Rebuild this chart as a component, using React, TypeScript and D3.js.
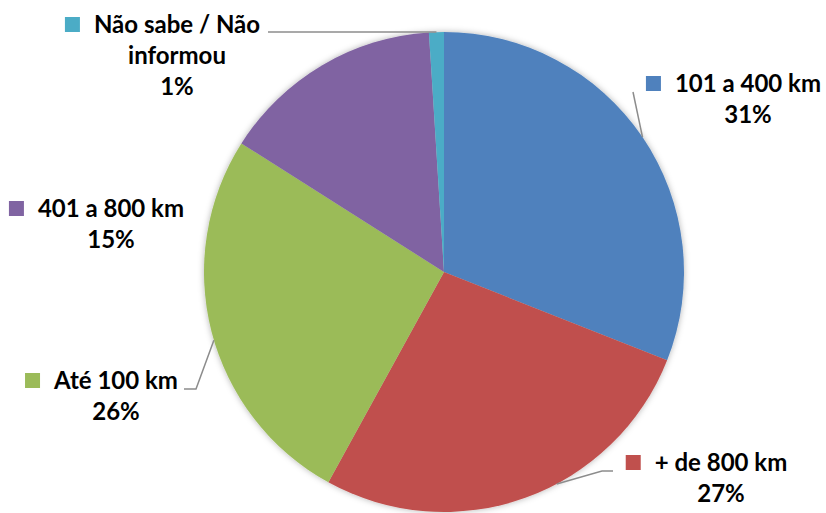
import React, { useEffect, useRef } from "react";
import * as d3 from "d3";

const categories = ["101 a 400 km", "+ de 800 km", "Até 100 km", "401 a 800 km", "Não sabe / Não informou"];
const values = [31, 27, 26, 15, 1];
const percentLabels = ["31%", "27%", "26%", "15%", "1%"];
const colors = ["#4F81BD", "#C0504D", "#9BBB59", "#8064A2", "#4BACC6"];

// label layout: text lines, center x, first baseline, leader line
const labelLayout = [
  { lines: ["101 a 400 km"], cx: 748, by: 92, leader: [[633, 92]], leaderAngle: null },
  { lines: ["+ de 800 km"], cx: 721, by: 471, leader: [[613, 471], [602, 471]], leaderAngle: 152 },
  { lines: ["Até 100 km"], cx: 116, by: 389, leader: [[184, 389], [196, 389]], leaderAngle: 253.5 },
  { lines: ["401 a 800 km"], cx: 111, by: 217, leader: null, leaderAngle: null },
  { lines: ["Não sabe / Não", "informou"], cx: 177, by: 33, leader: [[268, 32]], leaderAngle: null },
];

const W = 826, H = 513;
const CX = 444, CY = 272, R = 240;
const LINE_H = 31;

export default function App() {
  const ref = useRef<SVGSVGElement>(null);
  useEffect(() => {
    const svg = d3.select(ref.current);
    svg.selectAll("*").remove();
    const defs = svg.append("defs");
    const f = defs.append("filter").attr("id", "sh").attr("x", "-10%").attr("y", "-10%").attr("width", "120%").attr("height", "120%");
    f.append("feDropShadow").attr("dx", 0).attr("dy", 0).attr("stdDeviation", 3).attr("flood-color", "#000").attr("flood-opacity", 0.3);

    const pie = d3.pie<number>().sort(null).value((d) => d);
    const arcs = pie(values);
    const arc = d3.arc<d3.PieArcDatum<number>>().innerRadius(0).outerRadius(R);

    const g = svg.append("g").attr("transform", `translate(${CX},${CY})`);
    const pieG = g.append("g").attr("filter", "url(#sh)");
    pieG.selectAll("path").data(arcs).enter().append("path")
      .attr("d", arc as any)
      .attr("fill", (_d, i) => colors[i]);

    const onArc = (deg: number) => {
      const a = (deg * Math.PI) / 180;
      return [CX + R * Math.sin(a), CY - R * Math.cos(a)];
    };

    // leader lines
    labelLayout.forEach((L, i) => {
      if (!L.leader) return;
      const a = arcs[i];
      const deg = L.leaderAngle != null ? L.leaderAngle : (((a.startAngle + a.endAngle) / 2) * 180) / Math.PI;
      const pts = [...L.leader, onArc(deg)];
      svg.append("path")
        .attr("d", d3.line()(pts as [number, number][]))
        .attr("fill", "none")
        .attr("stroke", "#8c8c8c")
        .attr("stroke-width", 1.5);
    });

    // labels
    labelLayout.forEach((L, i) => {
      const lg = svg.append("g");
      const lines = [...L.lines, percentLabels[i]];
      let firstStart = 0;
      lines.forEach((t, j) => {
        const te = lg.append("text")
          .attr("x", L.cx)
          .attr("y", L.by + j * LINE_H)
          .attr("text-anchor", "middle")
          .attr("font-family", "Lato, 'Open Sans', sans-serif")
          .attr("font-weight", "bold")
          .attr("font-size", 24)
          .attr("fill", "#000")
          .text(t);
        if (j === 0) {
          const w = (te.node() as SVGTextElement).getComputedTextLength();
          firstStart = L.cx - w / 2;
        }
      });
      lg.append("rect")
        .attr("x", firstStart - 14 - 15)
        .attr("y", L.by - 16)
        .attr("width", 15)
        .attr("height", 15)
        .attr("fill", colors[i]);
    });
  }, []);
  return (
    <svg ref={ref} width={W} height={H} style={{ display: "block", position: "absolute", left: 0, top: 0, background: "#fff" }} />
  );
}
